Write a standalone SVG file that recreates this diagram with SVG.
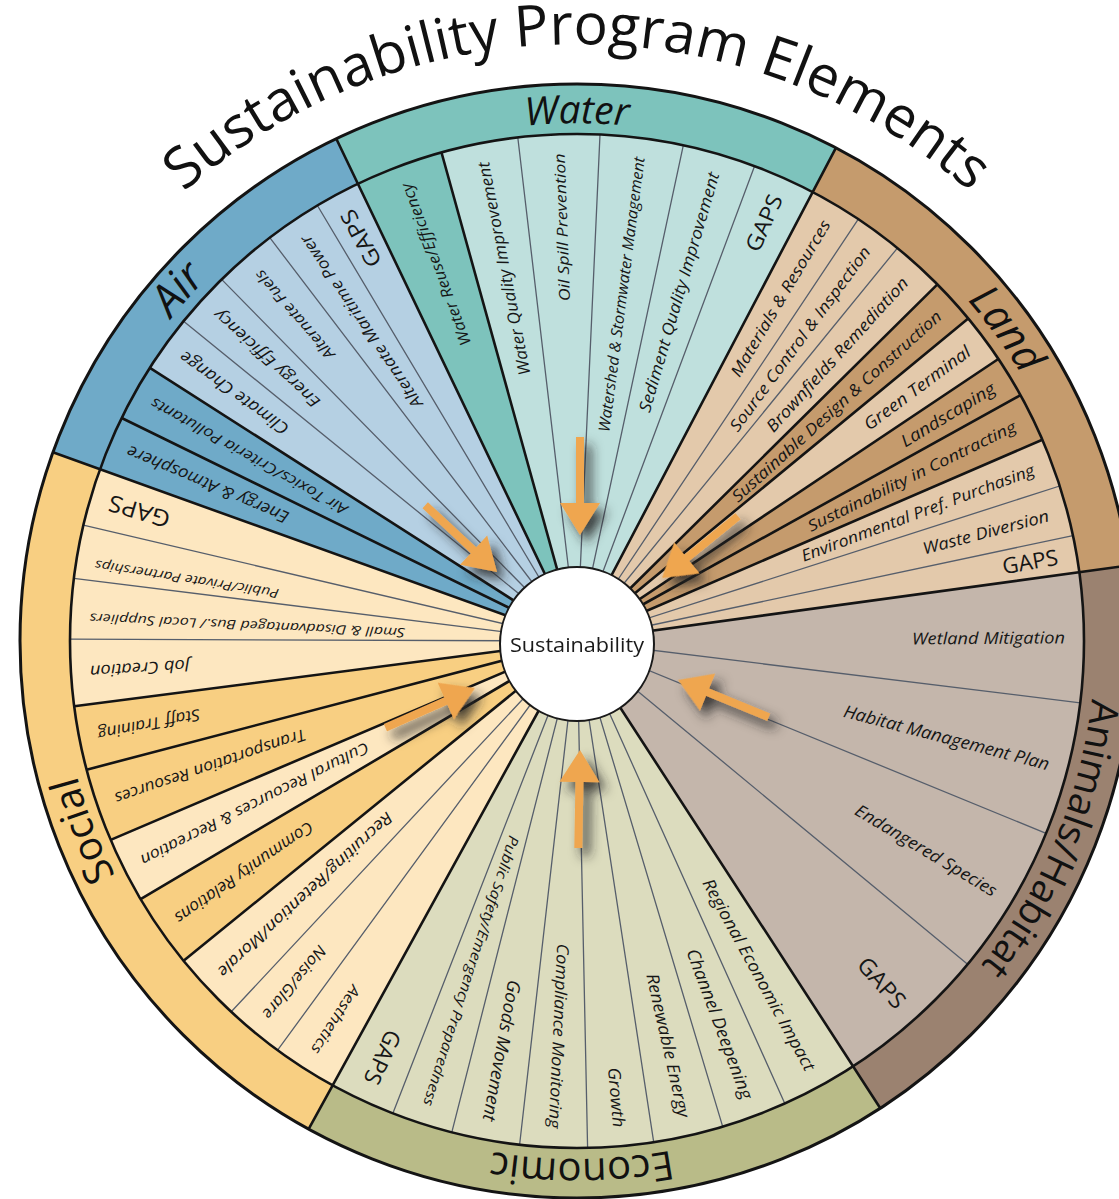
<svg xmlns="http://www.w3.org/2000/svg" xmlns:xlink="http://www.w3.org/1999/xlink" width="1119" height="1199" viewBox="0 0 1119 1199">
<style>
.lbl{font-family:"Open Sans","Noto Sans","DejaVu Sans",sans-serif;font-style:italic;fill:#161616;}
.gaps{font-family:"Open Sans","Noto Sans","DejaVu Sans",sans-serif;font-style:normal;fill:#161616;}
.ringlbl{font-family:"Open Sans","Noto Sans","DejaVu Sans",sans-serif;fill:#111;}
.thick{stroke:#141414;stroke-width:2.6;fill:none;}
.thin{stroke:#565e6b;stroke-width:1.3;fill:none;}
.arrow{fill:#efa64f;}
</style>
<defs>
<filter id="shadow" x="-60%" y="-60%" width="220%" height="220%">
<feDropShadow dx="7" dy="8" stdDeviation="6" flood-color="#262626" flood-opacity="0.85"/>
</filter>
<path id="arr" d="M-98,-4 L-32,-4 L-32,-20 L0,0 L-32,20 L-32,4 L-98,4 Z"/>
<path id="titlePath" d="M-10.9,537.3 A597,597 0 0 1 1164.9,537.3"/>
<path id="pWater" d="M66.9,551.1 A518,518 0 0 1 1087.1,551.1"/>
<path id="pAir" d="M172.2,964.2 A518,518 0 0 1 846.9,198.8"/>
<path id="pLand" d="M349.9,175.4 A518,518 0 0 1 949.6,1000.9"/>
<path id="pAnimals" d="M856.1,204.6 A518,518 0 0 1 464.0,1146.5"/>
<path id="pEconomic" d="M1087.9,726.5 A518,518 0 0 1 67.7,735.4"/>
<path id="pSocial" d="M675.8,1149.5 A518,518 0 0 1 310.2,197.0"/>
</defs>
<rect width="1119" height="1199" fill="#ffffff"/>

<g id="title">
<text font-family="'Open Sans','Noto Sans',sans-serif" font-size="57" fill="#111"><textPath xlink:href="#titlePath" href="#titlePath" startOffset="50%" text-anchor="middle">Sustainability Program Elements</textPath></text>
</g>

<g id="air">
<path d="M577,641 L52.9,452.3 A557,557 0 0 1 336.3,138.7 Z" fill="#6faac8"/>
<path d="M577,641 L100.0,469.3 A507,507 0 0 1 149.9,367.8 Z" fill="#6faac8"/>
<path d="M577,641 L149.9,367.8 A507,507 0 0 1 357.9,183.8 Z" fill="#b5d0e3"/>
<path class="thin" d="M577,641 L183.6,321.2 M577,641 L221.6,279.4 M577,641 L269.8,237.7 M577,641 L317.4,205.5"/>
<text class="ringlbl" font-size="44" font-style="italic"><textPath xlink:href="#pAir" href="#pAir" startOffset="50%" text-anchor="middle">Air</textPath></text>
<text class="gaps" font-size="22" text-anchor="end" dy="0.35em" textLength="62" lengthAdjust="spacingAndGlyphs" transform="translate(346.4,210.9) rotate(-118.2)">GAPS</text>
<text class="lbl" font-size="16" text-anchor="end" dy="0.35em" textLength="205" lengthAdjust="spacingAndGlyphs" transform="translate(303.8,236.7) rotate(-124.05)">Alternate Maritime Power</text>
<text class="lbl" font-size="15" text-anchor="end" dy="0.35em" textLength="113" lengthAdjust="spacingAndGlyphs" transform="translate(257.5,272.1) rotate(-130.9)">Alternate Fuels</text>
<text class="lbl" font-size="16" text-anchor="end" dy="0.35em" textLength="137" lengthAdjust="spacingAndGlyphs" transform="translate(216.1,312.6) rotate(-137.7)">Energy Efficiency</text>
<text class="lbl" font-size="17" text-anchor="end" dy="0.35em" textLength="130" lengthAdjust="spacingAndGlyphs" transform="translate(181.4,355.2) rotate(-144.15)">Climate Change</text>
<text class="lbl" font-size="15" text-anchor="end" dy="0.35em" textLength="223" lengthAdjust="spacingAndGlyphs" transform="translate(151.7,401.8) rotate(-150.65)">Air Toxics/Criteria Pollutants</text>
<text class="lbl" font-size="17" text-anchor="end" dy="0.35em" textLength="174" lengthAdjust="spacingAndGlyphs" transform="translate(127.6,450.7) rotate(-157.05)">Energy &amp; Atmosphere</text>
</g>

<g id="water">
<path d="M577,641 L336.3,138.7 A557,557 0 0 1 835.9,147.8 Z" fill="#7dc3bc"/>
<path d="M577,641 L357.9,183.8 A507,507 0 0 1 441.5,152.5 Z" fill="#7dc3bc"/>
<path d="M577,641 L441.5,152.5 A507,507 0 0 1 812.7,192.1 Z" fill="#bfe0dd"/>
<path class="thin" d="M577,641 L517.8,137.5 M577,641 L600.0,134.5 M577,641 L683.3,145.3 M577,641 L754.6,166.1"/>
<text class="ringlbl" font-size="39" font-style="italic"><textPath xlink:href="#pWater" href="#pWater" startOffset="50%" text-anchor="middle">Water</textPath></text>
<text class="lbl" font-size="15.5" text-anchor="end" dy="0.35em" textLength="172" lengthAdjust="spacingAndGlyphs" transform="translate(405.7,184.0) rotate(-110.55)">Water Reuse/Efficiency</text>
<text class="lbl" font-size="16.5" text-anchor="end" dy="0.35em" textLength="217" lengthAdjust="spacingAndGlyphs" transform="translate(483.1,162.1) rotate(-101.1)">Water Quality Improvement</text>
<text class="lbl" font-size="15" text-anchor="end" dy="0.35em" textLength="148" lengthAdjust="spacingAndGlyphs" transform="translate(559.5,153.3) rotate(-92.05)">Oil Spill Prevention</text>
<text class="lbl" font-size="15.5" text-anchor="end" dy="0.35em" textLength="277" lengthAdjust="spacingAndGlyphs" transform="translate(639.4,157.0) rotate(-82.65)">Watershed &amp; Stormwater Management</text>
<text class="lbl" font-size="16.5" text-anchor="end" dy="0.35em" textLength="249" lengthAdjust="spacingAndGlyphs" transform="translate(714.0,172.6) rotate(-73.7)">Sediment Quality Improvement</text>
<text class="gaps" font-size="22" text-anchor="end" dy="0.35em" textLength="60" lengthAdjust="spacingAndGlyphs" transform="translate(776.3,195.5) rotate(-65.9)">GAPS</text>
</g>

<g id="land">
<path d="M577,641 L835.9,147.8 A557,557 0 0 1 1128.8,565.4 Z" fill="#c59b6d"/>
<path d="M577,641 L812.7,192.1 A507,507 0 0 1 937.4,284.4 Z" fill="#e3c9ab"/>
<path d="M577,641 L937.4,284.4 A507,507 0 0 1 968.2,318.5 Z" fill="#c59b6d"/>
<path d="M577,641 L968.2,318.5 A507,507 0 0 1 998.3,359.0 Z" fill="#e3c9ab"/>
<path d="M577,641 L998.3,359.0 A507,507 0 0 1 1042.3,439.7 Z" fill="#c59b6d"/>
<path d="M577,641 L1042.3,439.7 A507,507 0 0 1 1079.3,572.2 Z" fill="#e3c9ab"/>
<path class="thin" d="M577,641 L858.3,219.2 M577,641 L897.4,248.1 M577,641 L1059.7,486.0 M577,641 L1072.9,535.6"/>
<text class="ringlbl" font-size="42" font-style="italic"><textPath xlink:href="#pLand" href="#pLand" startOffset="50%" text-anchor="middle">Land</textPath></text>
<text class="lbl" font-size="16" text-anchor="end" dy="0.35em" textLength="179" lengthAdjust="spacingAndGlyphs" transform="translate(826.1,221.4) rotate(-59.3)">Materials &amp; Resources</text>
<text class="lbl" font-size="16" text-anchor="end" dy="0.35em" textLength="225" lengthAdjust="spacingAndGlyphs" transform="translate(866.9,248.4) rotate(-53.55)">Source Control &amp; Inspection</text>
<text class="lbl" font-size="16.5" text-anchor="end" dy="0.35em" textLength="202" lengthAdjust="spacingAndGlyphs" transform="translate(905.1,279.8) rotate(-47.75)">Brownfields Remediation</text>
<text class="lbl" font-size="16" text-anchor="end" dy="0.35em" textLength="276" lengthAdjust="spacingAndGlyphs" transform="translate(939.0,313.8) rotate(-42.1)">Sustainable Design &amp; Construction</text>
<text class="lbl" font-size="17" text-anchor="end" dy="0.35em" textLength="128" lengthAdjust="spacingAndGlyphs" transform="translate(968.5,349.7) rotate(-36.65)">Green Terminal</text>
<text class="lbl" font-size="17" text-anchor="end" dy="0.35em" textLength="107" lengthAdjust="spacingAndGlyphs" transform="translate(993.6,386.8) rotate(-31.4)">Landscaping</text>
<text class="lbl" font-size="15.5" text-anchor="end" dy="0.35em" textLength="230" lengthAdjust="spacingAndGlyphs" transform="translate(1014.9,425.5) rotate(-26.2)">Sustainability in Contracting</text>
<text class="lbl" font-size="16" text-anchor="end" dy="0.35em" textLength="248" lengthAdjust="spacingAndGlyphs" transform="translate(1033.8,469.3) rotate(-20.6)">Environmental Pref. Purchasing</text>
<text class="lbl" font-size="16.5" text-anchor="end" dy="0.35em" textLength="130" lengthAdjust="spacingAndGlyphs" transform="translate(1048.6,515.5) rotate(-14.9)">Waste Diversion</text>
<text class="gaps" font-size="22" text-anchor="end" dy="0.35em" textLength="56" lengthAdjust="spacingAndGlyphs" transform="translate(1057.7,557.1) rotate(-9.9)">GAPS</text>
</g>

<g id="animals-habitat">
<path d="M577,641 L1128.8,565.4 A557,557 0 0 1 880.3,1108.2 Z" fill="#9b8270"/>
<path d="M577,641 L1079.3,572.2 A507,507 0 0 1 853.1,1066.2 Z" fill="#c4b6ab"/>
<path class="thin" d="M577,641 L1080.2,702.8 M577,641 L1046.1,833.4 M577,641 L967.6,964.2"/>
<text class="ringlbl" font-size="39"><textPath xlink:href="#pAnimals" href="#pAnimals" startOffset="50%" text-anchor="middle">Animals/Habitat</textPath></text>
<text class="lbl" font-size="16.5" text-anchor="end" dy="0.35em" textLength="153" lengthAdjust="spacingAndGlyphs" transform="translate(1065.0,637.6) rotate(-0.4)">Wetland Mitigation</text>
<text class="lbl" font-size="17.5" text-anchor="end" dy="0.35em" textLength="212" lengthAdjust="spacingAndGlyphs" transform="translate(1049.1,764.4) rotate(14.65)">Habitat Management Plan</text>
<text class="lbl" font-size="17" text-anchor="end" dy="0.35em" textLength="162" lengthAdjust="spacingAndGlyphs" transform="translate(995.5,892.0) rotate(30.95)">Endangered Species</text>
<text class="gaps" font-size="23" text-anchor="end" dy="0.35em" textLength="60" lengthAdjust="spacingAndGlyphs" transform="translate(901.6,1005.3) rotate(48.3)">GAPS</text>
</g>

<g id="economic">
<path d="M577,641 L880.3,1108.2 A557,557 0 0 1 308.6,1129.1 Z" fill="#b9bb88"/>
<path d="M577,641 L853.1,1066.2 A507,507 0 0 1 332.7,1085.3 Z" fill="#dcdcbe"/>
<path class="thin" d="M577,641 L784.8,1103.4 M577,641 L722.7,1126.6 M577,641 L653.7,1142.2 M577,641 L587.6,1147.9 M577,641 L519.6,1144.8 M577,641 L451.8,1132.3 M577,641 L392.8,1113.4"/>
<text class="ringlbl" font-size="40"><textPath xlink:href="#pEconomic" href="#pEconomic" startOffset="50%" text-anchor="middle">Economic</textPath></text>
<text class="lbl" font-size="17" text-anchor="end" dy="0.35em" textLength="216" lengthAdjust="spacingAndGlyphs" transform="translate(810.6,1069.5) rotate(61.4)">Regional Economic Impact</text>
<text class="lbl" font-size="17.5" text-anchor="end" dy="0.35em" textLength="159" lengthAdjust="spacingAndGlyphs" transform="translate(747.5,1098.3) rotate(69.55)">Channel Deepening</text>
<text class="lbl" font-size="17" text-anchor="end" dy="0.35em" textLength="147" lengthAdjust="spacingAndGlyphs" transform="translate(684.3,1117.0) rotate(77.3)">Renewable Energy</text>
<text class="lbl" font-size="17" text-anchor="end" dy="0.35em" textLength="60" lengthAdjust="spacingAndGlyphs" transform="translate(619.1,1127.2) rotate(85.05)">Growth</text>
<text class="lbl" font-size="16.5" text-anchor="end" dy="0.35em" textLength="185" lengthAdjust="spacingAndGlyphs" transform="translate(554.5,1128.5) rotate(92.65)">Compliance Monitoring</text>
<text class="lbl" font-size="18" text-anchor="end" dy="0.35em" textLength="143" lengthAdjust="spacingAndGlyphs" transform="translate(488.9,1121.0) rotate(100.4)">Goods Movement</text>
<text class="lbl" font-size="14.5" text-anchor="end" dy="0.35em" textLength="283" lengthAdjust="spacingAndGlyphs" transform="translate(427.8,1105.6) rotate(107.8)">Public Safety/Emergency Preparedness</text>
<text class="gaps" font-size="23" text-anchor="end" dy="0.35em" textLength="57" lengthAdjust="spacingAndGlyphs" transform="translate(370.4,1083.1) rotate(115.05)">GAPS</text>
</g>

<g id="social">
<path d="M577,641 L308.6,1129.1 A557,557 0 0 1 52.9,452.3 Z" fill="#f8cf82"/>
<path d="M577,641 L332.7,1085.3 A507,507 0 0 1 183.6,960.8 Z" fill="#fde7c0"/>
<path d="M577,641 L183.6,960.8 A507,507 0 0 1 140.6,899.1 Z" fill="#f8cf82"/>
<path d="M577,641 L140.6,899.1 A507,507 0 0 1 110.7,839.9 Z" fill="#fde7c0"/>
<path d="M577,641 L110.7,839.9 A507,507 0 0 1 74.2,706.3 Z" fill="#f8cf82"/>
<path d="M577,641 L74.2,706.3 A507,507 0 0 1 100.0,469.3 Z" fill="#fde7c0"/>
<path class="thin" d="M577,641 L277.6,1050.1 M577,641 L231.2,1011.8 M577,641 L70.0,639.2 M577,641 L73.9,578.3 M577,641 L83.4,525.2"/>
<text class="ringlbl" font-size="40"><textPath xlink:href="#pSocial" href="#pSocial" startOffset="50%" text-anchor="middle">Social</textPath></text>
<text class="lbl" font-size="15" text-anchor="end" dy="0.35em" textLength="78" lengthAdjust="spacingAndGlyphs" transform="translate(314.8,1052.6) rotate(-237.5)">Aesthetics</text>
<text class="lbl" font-size="16" text-anchor="end" dy="0.35em" textLength="90" lengthAdjust="spacingAndGlyphs" transform="translate(265.9,1017.0) rotate(-230.4)">Noise/Glare</text>
<text class="lbl" font-size="16" text-anchor="end" dy="0.35em" textLength="233" lengthAdjust="spacingAndGlyphs" transform="translate(220.4,974.2) rotate(-223.05)">Recruiting/Retention/Morale</text>
<text class="lbl" font-size="16.5" text-anchor="end" dy="0.35em" textLength="165" lengthAdjust="spacingAndGlyphs" transform="translate(176.5,919.8) rotate(-214.85)">Community Relations</text>
<text class="lbl" font-size="15.5" text-anchor="end" dy="0.35em" textLength="254" lengthAdjust="spacingAndGlyphs" transform="translate(141.6,861.4) rotate(-206.85)">Cultural Recources &amp; Recreation</text>
<text class="lbl" font-size="16" text-anchor="end" dy="0.35em" textLength="201" lengthAdjust="spacingAndGlyphs" transform="translate(115.3,799.1) rotate(-198.9)">Transportation Resources</text>
<text class="lbl" font-size="16" text-anchor="end" dy="0.35em" textLength="104" lengthAdjust="spacingAndGlyphs" transform="translate(98.0,734.5) rotate(-191.05)">Staff Training</text>
<text class="lbl" font-size="16.5" text-anchor="end" dy="0.35em" textLength="100" lengthAdjust="spacingAndGlyphs" transform="translate(90.0,671.6) rotate(-183.6)">Job Creation</text>
<text class="lbl" font-size="13" text-anchor="end" dy="0.35em" textLength="316" lengthAdjust="spacingAndGlyphs" transform="translate(89.5,618.0) rotate(-177.3)">Small &amp; Disadvantaged Bus./ Local Suppliers</text>
<text class="lbl" font-size="13" text-anchor="end" dy="0.35em" textLength="186" lengthAdjust="spacingAndGlyphs" transform="translate(95.0,564.7) rotate(-171)">Public/Private Partnerships</text>
<text class="gaps" font-size="23" text-anchor="end" dy="0.35em" textLength="63" lengthAdjust="spacingAndGlyphs" transform="translate(109.1,502.4) rotate(-163.5)">GAPS</text>
</g>

<g id="boundaries">
<path class="thick" d="M577,641 L336.3,138.7 M577,641 L835.9,147.8 M577,641 L1128.8,565.4 M577,641 L880.3,1108.2 M577,641 L308.6,1129.1 M577,641 L52.9,452.3"/>
<path class="thick" d="M577,641 L149.9,367.8 M577,641 L121.7,418.0 M577,641 L441.5,152.5 M577,641 L937.4,284.4 M577,641 L968.2,318.5 M577,641 L998.3,359.0 M577,641 L1020.4,395.2 M577,641 L1042.3,439.7 M577,641 L183.6,960.8 M577,641 L140.6,899.1 M577,641 L110.7,839.9 M577,641 L86.6,769.7 M577,641 L74.2,706.3"/>
<circle cx="577" cy="641" r="507" fill="none" stroke="#141414" stroke-width="2.6"/>
<circle cx="577" cy="641" r="557" fill="none" stroke="#141414" stroke-width="3"/>
</g>

<g id="connectors" filter="url(#shadow)">
<use href="#arr" xlink:href="#arr" class="arrow" transform="translate(497,572) rotate(42.9)"/>
<use href="#arr" xlink:href="#arr" class="arrow" transform="translate(580,535) rotate(90)"/>
<use href="#arr" xlink:href="#arr" class="arrow" transform="translate(662,578) rotate(140.9)"/>
<use href="#arr" xlink:href="#arr" class="arrow" transform="translate(678,680) rotate(202.3)"/>
<use href="#arr" xlink:href="#arr" class="arrow" transform="translate(580,750) rotate(-89)"/>
<use href="#arr" xlink:href="#arr" class="arrow" transform="translate(475,688) rotate(-23.9)"/>
</g>

<g id="sustainability">
<circle cx="577" cy="644" r="77" fill="#ffffff" stroke="#1a1a1a" stroke-width="2"/>
<text x="577" y="652" font-family="'Open Sans','Noto Sans',sans-serif" font-size="20.5" fill="#1a1a1a" text-anchor="middle" textLength="134" lengthAdjust="spacingAndGlyphs">Sustainability</text>
</g>
</svg>
